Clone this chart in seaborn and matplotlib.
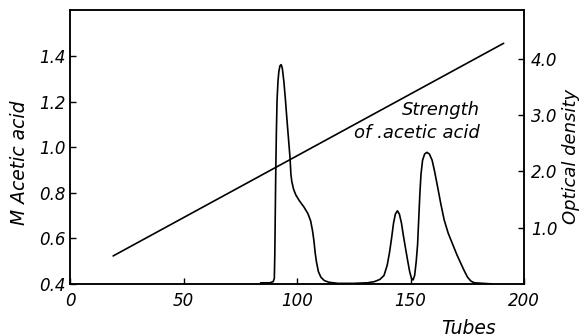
import pandas as pd
import matplotlib
matplotlib.use("Agg")
import matplotlib.pyplot as plt
import seaborn as sns

# Configuration
sns.set_style("ticks")
plt.rcParams["font.family"] = ["DejaVu Sans"]
plt.rcParams["font.style"] = "italic"
plt.rcParams["xtick.direction"] = "in"
plt.rcParams["ytick.direction"] = "in"
plt.rcParams["text.color"] = "black"
plt.rcParams["axes.labelcolor"] = "black"

# Strength of acetic acid (straight gradient line)
acid_tubes = [19, 191]
acid_molarity = [0.523, 1.458]

# Optical density
od_tubes = [84, 88, 89.5, 90.0, 90.2, 90.4, 90.6, 90.9, 91.2, 91.6, 92.0, 92.5, 93.0,
            93.5, 94.2, 94.9, 95.6, 96.3, 96.9, 97.3, 97.7, 98.5, 99.5, 101, 103,
            104.8, 106, 106.8, 107.4, 108, 108.6, 109.4, 110.5, 112, 114, 118, 125,
            131, 134, 136.5, 138.3, 139.7, 140.7, 141.6, 142.5, 143.3, 144.2, 145.1,
            146.0, 146.8, 147.8, 148.7, 149.6, 150.4, 151.1, 151.8, 152.5, 153.1,
            153.6, 154.1, 154.6, 155.3, 156.2, 157.2, 158.3, 159.5, 160.6, 161.9,
            163.3, 164.8, 166.6, 168.5, 170.4, 172.2, 173.7, 175.1, 176.6, 178.1,
            182, 186]
od_values = [0.02, 0.02, 0.04, 0.10, 0.5, 1.2, 1.9, 2.7, 3.27, 3.6, 3.78, 3.88, 3.90,
             3.84, 3.6, 3.27, 2.9, 2.55, 2.25, 1.95, 1.82, 1.68, 1.58, 1.48, 1.37,
             1.25, 1.12, 0.95, 0.78, 0.55, 0.38, 0.22, 0.12, 0.06, 0.03, 0.01, 0.01,
             0.02, 0.04, 0.08, 0.15, 0.33, 0.55, 0.8, 1.08, 1.24, 1.30, 1.24,
             1.08, 0.87, 0.63, 0.42, 0.22, 0.10, 0.07, 0.15, 0.4, 0.7,
             1.15, 1.6, 1.95, 2.2, 2.31, 2.34, 2.31, 2.2, 2.0, 1.73,
             1.43, 1.14, 0.9, 0.71, 0.52, 0.36, 0.23, 0.12, 0.05, 0.02,
             0.01, 0.0]

x_ticks = [0, 50, 100, 150, 200]
left_ticks = [0.4, 0.6, 0.8, 1.0, 1.2, 1.4]
right_ticks = [1.0, 2.0, 3.0, 4.0]

acid_df = pd.DataFrame({"tube": acid_tubes, "molarity": acid_molarity})
od_df = pd.DataFrame({"tube": od_tubes, "od": od_values})

fig, ax = plt.subplots(figsize=(5.81, 3.36), dpi=100)
fig.subplots_adjust(left=0.1205, right=0.902, bottom=0.155, top=0.970)
ax2 = ax.twinx()

sns.lineplot(data=acid_df, x="tube", y="molarity", color="black", linewidth=1.2,
             estimator=None, ax=ax)
sns.lineplot(data=od_df, x="tube", y="od", color="black", linewidth=1.2,
             estimator=None, ax=ax2)

ax.set_xlim(0, 200)
ax.set_ylim(0.4, 1.604)
ax2.set_ylim(0, 4.87)

ax.set_xticks(x_ticks)
ax.set_xticklabels([str(t) for t in x_ticks])
ax.set_yticks(left_ticks)
ax.set_yticklabels([f"{t:.1f}" for t in left_ticks])
ax2.set_yticks(right_ticks)
ax2.set_yticklabels([f"{t:.1f}" for t in right_ticks])

for a in (ax, ax2):
    for s in a.spines.values():
        s.set_visible(True)
        s.set_linewidth(1.1)
        s.set_color("black")
ax.tick_params(axis="both", labelsize=12, length=4, width=1, colors="black")
ax.tick_params(axis="x", pad=6)
ax.tick_params(axis="y", pad=3)
ax2.tick_params(axis="y", labelsize=12, length=4, width=1, pad=5, colors="black")

# axis titles placed as figure text so they sit where the reference has them
ax.set_xlabel("")
ax.set_ylabel("")
ax2.set_ylabel("")
fig.text(19.5 / 581, 1 - 163 / 336, "M Acetic acid", rotation=90, ha="center",
         va="center", fontsize=13.5)
fig.text(571 / 581, 1 - 157 / 336, "Optical density", rotation=90, ha="center",
         va="center", fontsize=13)
fig.text(468 / 581, 1 - 328 / 336, "Tubes", ha="center", va="center", fontsize=13.5)

ax.text(180.7, 1.165, "Strength", ha="right", va="center", fontsize=13)
ax.text(180.7, 1.064, "of .acetic acid", ha="right", va="center", fontsize=13)

fig.savefig("out.png", dpi=100)
